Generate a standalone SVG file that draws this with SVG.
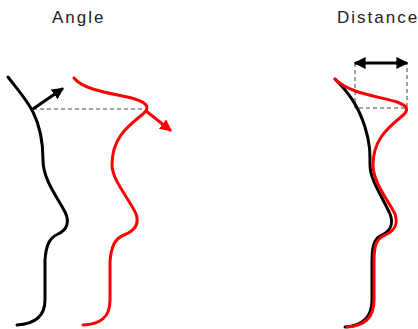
<svg xmlns="http://www.w3.org/2000/svg" width="418" height="329" viewBox="0 0 418 329">
<defs>
<style>
.t{font-family:"Liberation Sans",Arial,sans-serif;font-size:17px;letter-spacing:2px;fill:#222}
.k{fill:none;stroke:#000;stroke-width:3;stroke-linecap:round}
.r{fill:none;stroke:#f00;stroke-width:3;stroke-linecap:round}
.d{fill:none;stroke:#444;stroke-width:1;stroke-dasharray:4,3}
</style>
<marker id="ak" viewBox="0 0 10 10" refX="8" refY="5" markerWidth="4" markerHeight="4" orient="auto-start-reverse" markerUnits="strokeWidth"><path d="M0,0L10,5L0,10z" fill="#000"/></marker>
<marker id="ar" viewBox="0 0 10 10" refX="8" refY="5" markerWidth="4" markerHeight="4" orient="auto" markerUnits="strokeWidth"><path d="M0,0L10,5L0,10z" fill="#f00"/></marker>
</defs>
<g id="labels">
<text class="t" x="52" y="23">Angle</text>
<text class="t" x="337" y="23">Distance</text>
</g>
<g id="angle-panel">
<path class="d" d="M33,109 L145,109"/>
<path class="k" d="M8,77 C18,90 27,100 33,112 C40,126 43,142 43,160 C43,180 58,198 65,212 C70,222 67,230 58,234 C49,238 46,246 45,260 L45,300 C45,318 33,324 17,325"/>
<path class="r" d="M74,78 C85,92 120,94 135,99 C148,103 150,108 143,114 C125,128 112,140 112,165 C112,180 130,200 136,214 C140,225 134,231 124,235 C114,239 111,248 110,262 L110,300 C110,318 100,324 83,325"/>
<path class="k" d="M33,109 L62,89" marker-end="url(#ak)"/>
<path class="r" d="M146,111 L170,130" marker-end="url(#ar)"/>
</g>
<g id="distance-panel">
<path class="d" d="M355,63 L355,108 L407,108 L407,63"/>
<path class="k" d="M356,63 L406,63" marker-start="url(#ak)" marker-end="url(#ak)"/>
<path class="k" d="M335,79 C348,92 358,105 365,127 C370,143 370,152 370,165 C370,180 382,196 390,214 C394,224 390,232 380,236 C374,240 372,246 372,262 L372,300 C372,318 362,326 345,327"/>
<path class="r" d="M335,79 C350,94 378,96 397,102 C408,106 410,110 401,117 C385,130 373,142 373,165 C373,182 388,200 395,214 C399,226 393,232 383,236 C376,240 374,246 374,262 L374,300 C374,318 364,326 347,327"/>
</g>
</svg>
